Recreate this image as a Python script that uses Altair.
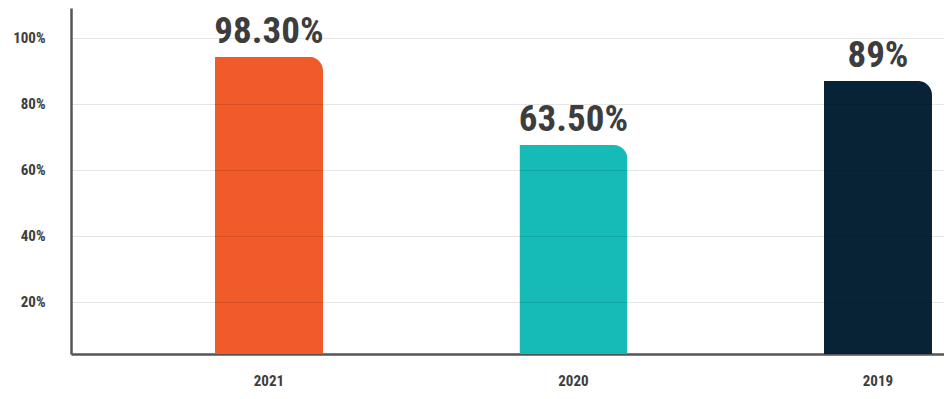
import altair as alt
import pandas as pd

years = ["2021", "2020", "2019"]
bar_values = [94.2, 67.5, 86.9]
label_texts = ["98.30%", "63.50%", "89%"]
colors = ["#F15A29", "#16BAB6", "#082336"]
y_ticks = [20, 40, 60, 80, 100]

df = pd.DataFrame({"year": years, "value": bar_values, "label": label_texts})

FONT = "Roboto Condensed, Roboto, sans-serif"

x = alt.X("year:N", sort=years,
          scale=alt.Scale(paddingInner=0.645, paddingOuter=0.256, align=0.923),
          axis=alt.Axis(title=None, labelAngle=0, ticks=False, domain=True,
                        domainColor="#555555", domainWidth=2.5,
                        labelFont=FONT, labelFontSize=15, labelFontWeight="bold",
                        labelColor="#3d3d3d", labelPadding=19, grid=False))
y = alt.Y("value:Q",
          scale=alt.Scale(domain=[4.2, 109], nice=False, zero=False, clamp=True),
          axis=alt.Axis(title=None, values=y_ticks, labelExpr="datum.value + '%'",
                        ticks=False, domain=True, domainColor="#555555", domainWidth=2.5,
                        grid=True, gridColor="#000000", gridOpacity=0.1, gridWidth=1.2,
                        labelFont=FONT, labelFontSize=15, labelFontWeight="bold",
                        labelColor="#3d3d3d", labelPadding=26, zindex=1))

bars = alt.Chart(df).mark_bar(cornerRadiusTopRight=14).encode(
    x=x, y=y,
    color=alt.Color("year:N", sort=years,
                    scale=alt.Scale(domain=years, range=colors), legend=None),
)

text = alt.Chart(df).mark_text(
    font=FONT, fontSize=37, fontWeight="bold", color="#3d3d3d",
    baseline="alphabetic", dy=-14,
).encode(x=alt.X("year:N", sort=years), y="value:Q", text="label:N")

chart = alt.layer(bars, text).properties(
    width=873, height=346,
    autosize=alt.AutoSizeParams(type="none"),
    padding={"left": 63, "top": 0, "right": 0, "bottom": 37},
).configure_view(stroke=None)

chart.save("out.html", embed_options={"renderer": "svg", "actions": False})
